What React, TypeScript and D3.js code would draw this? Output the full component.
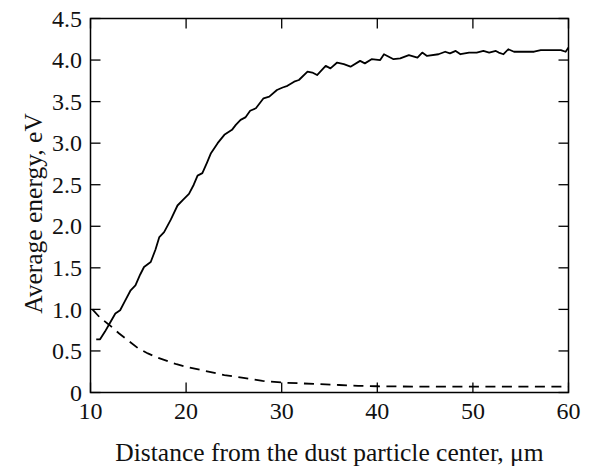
import React from "react";
import * as d3 from "d3";

const xTicks = [10, 20, 30, 40, 50, 60];
const yTicks = [0, 0.5, 1.0, 1.5, 2.0, 2.5, 3.0, 3.5, 4.0, 4.5];
const yTickLabels = ["0", "0.5", "1.0", "1.5", "2.0", "2.5", "3.0", "3.5", "4.0", "4.5"];

const solidX = [10.6, 11.0, 11.5, 12.0, 12.6, 13.1, 13.6, 14.2, 14.7, 15.2, 15.6, 16.3, 16.8, 17.2, 17.7, 18.4, 19.1, 19.7, 20.3, 20.8, 21.2, 21.7, 22.2, 22.6, 23.3, 24.0, 24.8, 25.2, 25.7, 26.2, 26.7, 27.3, 28.1, 28.7, 29.5, 30.1, 30.6, 31.3, 31.8, 32.7, 33.2, 33.7, 34.6, 35.1, 35.8, 36.5, 37.2, 38.2, 38.7, 39.4, 40.3, 40.7, 41.2, 41.7, 42.4, 43.3, 44.2, 44.7, 45.2, 46.4, 47.1, 47.6, 48.2, 48.7, 49.6, 50.4, 51.1, 51.7, 52.4, 52.7, 53.2, 53.7, 54.3, 55.3, 56.4, 57.1, 58.2, 59.2, 59.7, 60.0];
const solidY = [0.64, 0.64, 0.73, 0.83, 0.95, 0.99, 1.1, 1.23, 1.29, 1.42, 1.51, 1.57, 1.72, 1.87, 1.93, 2.08, 2.25, 2.32, 2.39, 2.5, 2.61, 2.64, 2.77, 2.88, 3.0, 3.10, 3.16, 3.22, 3.28, 3.31, 3.39, 3.42, 3.54, 3.56, 3.64, 3.67, 3.69, 3.74, 3.76, 3.86, 3.85, 3.82, 3.93, 3.90, 3.97, 3.95, 3.92, 3.99, 3.96, 4.01, 4.00, 4.07, 4.04, 4.01, 4.02, 4.06, 4.03, 4.09, 4.05, 4.07, 4.10, 4.08, 4.11, 4.07, 4.09, 4.09, 4.11, 4.09, 4.11, 4.09, 4.07, 4.13, 4.10, 4.10, 4.10, 4.12, 4.12, 4.12, 4.10, 4.15];

const dashX = [10.2, 11, 12, 13, 14, 15, 16, 17, 18, 19, 20, 22, 24, 26, 28, 30, 32, 34, 36, 38, 40, 45, 50, 55, 60];
const dashY = [1.0, 0.9, 0.81, 0.71, 0.62, 0.53, 0.47, 0.42, 0.38, 0.34, 0.31, 0.26, 0.21, 0.175, 0.14, 0.12, 0.11, 0.1, 0.09, 0.08, 0.075, 0.07, 0.07, 0.07, 0.07];

const W = 592, H = 468;
const L = 90.5, R = 568.5, T = 18.5, B = 392.5;
const font = "'Liberation Serif', 'Times New Roman', serif";

export default function App() {
  const x = d3.scaleLinear().domain([10, 60]).range([L, R]);
  const y = d3.scaleLinear().domain([0, 4.5]).range([B, T]);
  const line = d3.line<number>().x((_, i) => 0).y(() => 0);
  const mk = (xs: number[], ys: number[]) =>
    d3.line<[number, number]>().x(d => x(d[0])).y(d => y(d[1]))(xs.map((v, i) => [v, ys[i]] as [number, number])) || "";
  void line;
  const tl = 10;
  return (
    <svg width={W} height={H} style={{ position: "absolute", left: 0, top: 0, background: "#fff" }} fontFamily={font}>
      <rect x={0} y={0} width={W} height={H} fill="#fff" />
      <g stroke="#000" strokeWidth={1.3}>
        {xTicks.map(t => (
          <g key={"x" + t}>
            <line x1={x(t)} x2={x(t)} y1={B} y2={B - tl} />
            <line x1={x(t)} x2={x(t)} y1={T} y2={T + tl} />
          </g>
        ))}
        {yTicks.map(t => (
          <g key={"y" + t}>
            <line x1={L} x2={L + tl} y1={y(t)} y2={y(t)} />
            <line x1={R} x2={R - tl} y1={y(t)} y2={y(t)} />
          </g>
        ))}
      </g>
      <rect x={L} y={T} width={R - L} height={B - T} fill="none" stroke="#000" strokeWidth={1.5} />
      <path d={mk(solidX, solidY)} fill="none" stroke="#000" strokeWidth={1.8} strokeLinejoin="round" />
      <path d={mk(dashX, dashY)} fill="none" stroke="#000" strokeWidth={1.8} strokeDasharray="10,6.5" />
      <g fontSize={24} fill="#111">
        {xTicks.map(t => (
          <text key={"xl" + t} x={x(t)} y={419} textAnchor="middle">{t}</text>
        ))}
        {yTicks.map((t, i) => (
          <text key={"yl" + t} x={82} y={y(t)} dy="0.34em" textAnchor="end">{yTickLabels[i]}</text>
        ))}
      </g>
      <text x={(L + R) / 2} y={461} fontSize={25.5} textAnchor="middle" fill="#111">
        Distance from the dust particle center, μm
      </text>
      <text transform={`translate(42, ${(T + B) / 2 + 8}) rotate(-90)`} fontSize={25.5} textAnchor="middle" fill="#111">
        Average energy, eV
      </text>
    </svg>
  );
}
